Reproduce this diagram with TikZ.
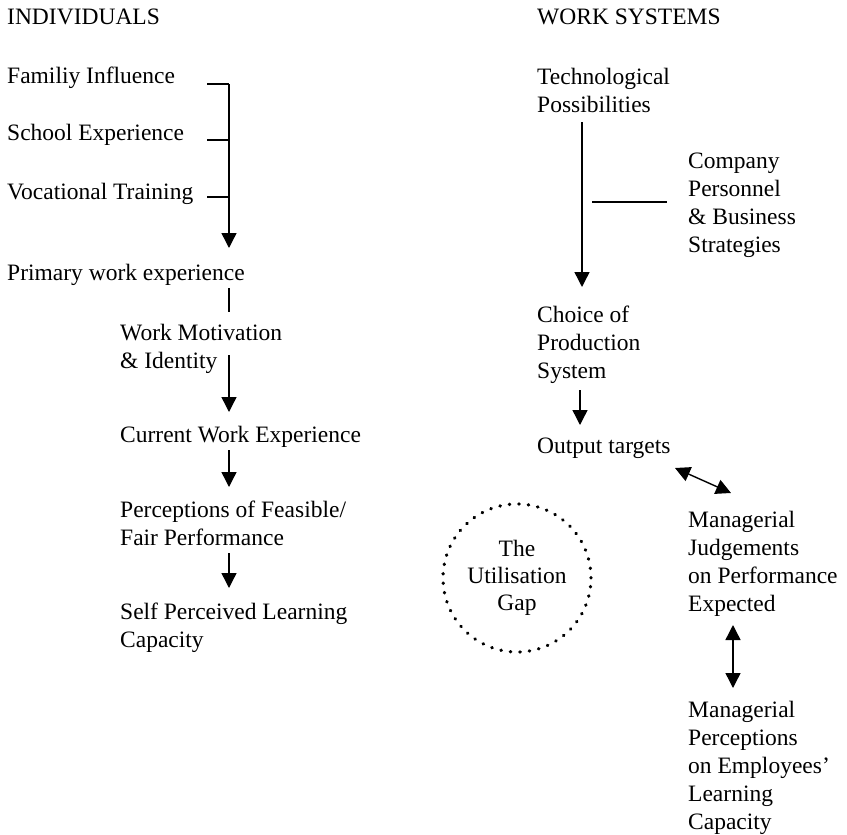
\documentclass[tikz,border=0pt]{standalone}
\usepackage{fontspec}
\setmainfont{Liberation Serif}
\usetikzlibrary{arrows.meta,shapes}
\tikzstyle{label} = [anchor=north west,inner sep=0pt,align=left,font=\fontsize{23.5}{28}\selectfont]
\tikzstyle{arr} = [draw,line width=1.4pt,-{Triangle[length=15pt,width=15pt]}]
\tikzstyle{darr} = [draw,line width=1.4pt,{Triangle[length=15pt,width=15pt]}-{Triangle[length=15pt,width=15pt]}]
\tikzstyle{tick} = [draw,line width=1.4pt]
\tikzstyle{gap} = [circle,draw,line width=3.3pt,line cap=round,dash pattern=on 0.5pt off 9pt,
  minimum size=148pt,inner sep=0pt,align=center,font=\fontsize{23.5}{27}\selectfont]

\begin{document}
\begin{tikzpicture}[x=1pt,y=-1pt]
    \useasboundingbox (0,0) rectangle (847,835);

    % left column
    \foreach \pos/\name/\txt in {{(7,9)/ind/INDIVIDUALS}, {(7,67)/fam/Familiy Influence},
    {(7,124)/school/School Experience}, {(7,183)/voc/Vocational Training},
    {(7,264)/prim/Primary work experience}, {(120,324)/motiv/Work Motivation\\\& Identity},
    {(120,426)/curr/Current Work Experience}, {(120,501)/percep/{Perceptions of Feasible/\\Fair Performance}},
    {(120,603)/self/Self Perceived Learning\\Capacity}}
        \node[label] (\name) at \pos {\txt};

    % right column
    \foreach \pos/\name/\txt in {{(537,9)/ws/WORK SYSTEMS}, {(537,68)/tech/Technological\\Possibilities},
    {(688,153)/comp/Company\\Personnel\\\& Business\\Strategies}, {(537,306)/choice/Choice of\\Production\\System},
    {(537,438)/out/Output targets}, {(688,511)/judge/Managerial\\Judgements\\on Performance\\Expected},
    {(688,701)/mperc/Managerial\\Perceptions\\on Employees'\\Learning\\Capacity}}
        \node[label] (\name) at \pos {\txt};

    \node[gap] (gap) at (517,578) {The\\Utilisation\\Gap};

    % connector ends
    \foreach \name/\x/\y in {t1/207/84, s1/229/84, t2/207/140, s2/229/140,
    t3/207/197, s3/229/197, s4/229/248, p1/229/288, p2/229/312,
    m1/229/355, m2/229/412, c1/229/450, c2/229/487, f1/229/553, f2/229/588,
    r1/582/122, r2/582/287, h1/592/202, h2/667/202, r3/580/390, r4/580/425,
    o1/675/468, o2/731/493, j1/733/625, j2/733/688}
        \coordinate (\name) at (\x,\y);

    \foreach \source/\dest in {t1/s1, t2/s2, t3/s3, p1/p2, h1/h2}
        \path[tick] (\source) -- (\dest);

    \foreach \source/\dest in {s1/s4, m1/m2, c1/c2, f1/f2, r1/r2, r3/r4}
        \path[arr] (\source) -- (\dest);

    \foreach \source/\dest in {o1/o2, j1/j2}
        \path[darr] (\source) -- (\dest);
\end{tikzpicture}
\end{document}
